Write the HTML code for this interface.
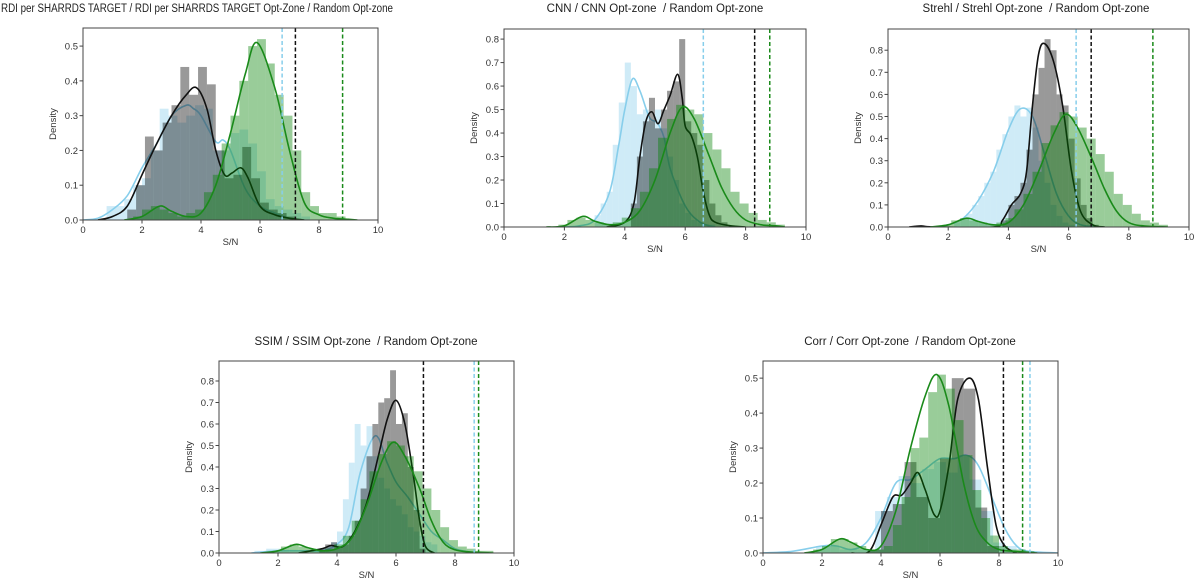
<!DOCTYPE html>
<html><head><meta charset="utf-8"><style>
html,body{margin:0;padding:0;background:#fff;}
svg{display:block;font-family:"Liberation Sans",sans-serif;}
text.title{white-space:pre;}
</style></head><body>
<svg id="fig" width="1200" height="582" viewBox="0 0 1200 582" xmlns="http://www.w3.org/2000/svg"></svg>
<script>
// ---- Panel 1: RDI ----
const p1BlueKdeX=[0,0.5,1,1.5,2,2.5,3,3.5,3.75,4,4.5,4.75,5,5.5,6,6.5,7,7.5];
const p1BlueKdeY=[0,0.005,0.03,0.07,0.15,0.22,0.3,0.33,0.32,0.3,0.225,0.23,0.2,0.09,0.04,0.02,0.005,0];
const p1BlackKdeX=[0.5,1,1.5,2,2.5,3,3.5,3.85,4.2,4.5,4.8,5.05,5.35,5.6,6,6.5,7,7.5];
const p1BlackKdeY=[0,0.01,0.04,0.13,0.22,0.3,0.36,0.38,0.32,0.2,0.13,0.135,0.15,0.12,0.04,0.015,0.005,0];
const p1GreenKdeX=[1.4,2,2.6,3,3.5,4,4.5,5,5.5,5.9,6.5,7,7.5,8,8.5,9,9.3];
const p1GreenKdeY=[0,0.01,0.04,0.025,0.01,0.02,0.1,0.25,0.42,0.51,0.38,0.2,0.05,0.015,0.005,0.002,0];
const p1BlueHist=[0.04,0.04,0.06,0.1,0.12,0.2,0.32,0.3,0.28,0.3,0.33,0.32,0.2,0.2,0.25,0.26,0.22,0.14,0.06,0.04,0.03,0.02,0.01];
const p1BlackHist=[0.03,0.1,0.24,0.2,0.28,0.33,0.44,0.36,0.44,0.39,0.2,0.12,0.13,0.21,0.12,0.05,0.03,0.02,0.01];
const p1GreenHist=[0.01,0.03,0.04,0.03,0.02,0.01,0.02,0.03,0.08,0.13,0.22,0.3,0.4,0.5,0.52,0.45,0.36,0.3,0.2,0.08,0.04,0.02,0.02,0.01];
const p1VLines=[6.75,7.2,8.8];
// ---- Panel 2: CNN ----
const p2BlueKdeX=[2,2.5,3,3.5,3.8,4,4.25,4.5,4.8,5,5.1,5.3,5.5,6,6.5,7];
const p2BlueKdeY=[0,0.005,0.03,0.15,0.35,0.5,0.63,0.58,0.47,0.45,0.44,0.38,0.25,0.09,0.02,0];
const p2BlackKdeX=[3.4,4,4.3,4.5,4.7,4.9,5.1,5.3,5.5,5.75,5.9,6,6.2,6.4,6.6,6.8,7,7.5,8];
const p2BlackKdeY=[0,0.02,0.1,0.3,0.45,0.49,0.44,0.5,0.56,0.65,0.55,0.43,0.39,0.3,0.15,0.05,0.02,0.005,0];
const p2GreenKdeX=[1.4,2,2.6,3,3.5,4,4.5,5,5.5,5.9,6.3,6.8,7.2,7.6,8,8.5,9,9.3];
const p2GreenKdeY=[0,0.005,0.045,0.025,0.01,0.02,0.07,0.2,0.4,0.51,0.46,0.3,0.17,0.08,0.03,0.01,0.005,0];
const p2BlueHist=[0.05,0.1,0.15,0.35,0.53,0.7,0.6,0.48,0.5,0.45,0.5,0.42,0.3,0.2,0.1,0.06,0.03,0.02,0.01,0.01];
const p2BlackHist=[0.1,0.3,0.45,0.55,0.42,0.5,0.58,0.62,0.8,0.45,0.4,0.35,0.2,0.1,0.05,0.02];
const p2GreenHist=[0.01,0.03,0.04,0.03,0.02,0.01,0.02,0.04,0.08,0.15,0.25,0.38,0.46,0.52,0.5,0.48,0.4,0.33,0.25,0.15,0.1,0.06,0.03,0.02,0.01];
const p2VLines=[6.6,8.3,8.8];
// ---- Panel 3: Strehl ----
const p3BlueKdeX=[1.5,2,2.5,3,3.5,4,4.4,4.8,5.2,5.6,6,6.4,7];
const p3BlueKdeY=[0,0.01,0.04,0.12,0.25,0.44,0.535,0.5,0.33,0.15,0.05,0.01,0];
const p3BlackKdeX=[0.7,1.1,1.5,3.5,3.8,4.1,4.4,4.6,4.8,5,5.2,5.5,5.8,6.1,6.4,6.8,7.2];
const p3BlackKdeY=[0,0.005,0,0,0.03,0.1,0.15,0.25,0.55,0.78,0.83,0.75,0.55,0.25,0.07,0.01,0];
const p3GreenKdeX=[1.4,2,2.6,3,3.5,4,4.5,5,5.5,5.9,6.3,6.8,7.2,7.6,8,8.5,9.3];
const p3GreenKdeY=[0,0.01,0.04,0.025,0.01,0.02,0.1,0.25,0.42,0.51,0.45,0.3,0.17,0.07,0.02,0.005,0];
const p3BlueHist=[0.02,0.04,0.06,0.1,0.14,0.2,0.25,0.35,0.42,0.5,0.55,0.5,0.54,0.45,0.3,0.2,0.1,0.05,0.02,0.01];
const p3BlackHist=[0.03,0.1,0.14,0.2,0.35,0.6,0.72,0.85,0.8,0.6,0.55,0.4,0.22,0.1,0.04,0.01];
const p3GreenHist=[0.01,0.03,0.04,0.03,0.02,0.01,0.02,0.04,0.08,0.15,0.25,0.38,0.46,0.52,0.5,0.45,0.4,0.33,0.25,0.15,0.1,0.06,0.03,0.02,0.01];
const p3VLines=[6.25,6.75,8.8];
// ---- Panel 4: SSIM ----
const p4BlueKdeX=[1.1,2,3,3.5,4,4.4,4.8,5.3,5.7,6,6.4,6.8,7.2,7.6,8,8.5,9];
const p4BlueKdeY=[0,0.01,0.01,0.01,0.04,0.12,0.38,0.545,0.42,0.33,0.26,0.18,0.1,0.06,0.02,0.005,0];
const p4BlackKdeX=[2.7,3.5,3.8,4.2,4.6,5,5.4,5.7,6,6.3,6.6,6.8,7,7.3];
const p4BlackKdeY=[0,0.02,0.035,0.03,0.1,0.23,0.45,0.62,0.71,0.6,0.35,0.15,0.03,0];
const p4GreenKdeX=[1.4,2,2.6,3,3.5,4,4.5,5,5.5,5.9,6.3,6.8,7.2,7.6,8,8.5,9.3];
const p4GreenKdeY=[0,0.01,0.04,0.025,0.01,0.02,0.07,0.22,0.42,0.515,0.45,0.3,0.15,0.05,0.015,0.005,0];
const p4BlueHist=[0.01,0.01,0.02,0.02,0.02,0.01,0.01,0.01,0.01,0.01,0.02,0.02,0.03,0.05,0.1,0.25,0.42,0.6,0.5,0.59,0.45,0.35,0.3,0.25,0.22,0.18,0.12,0.1,0.08,0.05,0.04];
const p4BlackHist=[0.02,0.04,0.05,0.03,0.04,0.08,0.15,0.3,0.45,0.6,0.7,0.72,0.85,0.6,0.65,0.4,0.2,0.02];
const p4GreenHist=[0.01,0.03,0.04,0.03,0.02,0.01,0.02,0.04,0.08,0.15,0.25,0.38,0.46,0.52,0.5,0.45,0.38,0.3,0.2,0.12,0.06,0.03,0.02,0.01,0.01];
const p4VLines=[8.65,6.93,8.8];
// ---- Panel 5: Corr ----
const p5BlueKdeX=[0,1,2,2.5,3,3.5,4,4.5,5,5.5,6,6.5,6.9,7.3,7.8,8.2,8.6,9,10];
const p5BlueKdeY=[0,0.005,0.02,0.02,0.01,0.03,0.1,0.2,0.21,0.24,0.27,0.27,0.28,0.25,0.15,0.07,0.02,0.005,0];
const p5BlackKdeX=[3,3.6,4,4.4,4.7,5,5.25,5.5,5.8,6,6.3,6.6,7,7.3,7.6,7.9,8.2,8.6];
const p5BlackKdeY=[0,0.005,0.08,0.16,0.165,0.2,0.23,0.18,0.11,0.12,0.25,0.44,0.5,0.44,0.25,0.08,0.02,0];
const p5GreenKdeX=[1.4,2,2.6,3,3.5,4,4.5,5,5.5,5.9,6.3,6.8,7.2,7.6,8,8.5,9.3];
const p5GreenKdeY=[0,0.01,0.04,0.03,0.01,0.02,0.12,0.3,0.45,0.51,0.42,0.2,0.08,0.03,0.01,0.005,0];
const p5BlueHist=[0.02,0.02,0.01,0.01,0.01,0.12,0.16,0.22,0.2,0.24,0.26,0.23,0.28,0.21,0.12,0.03,0.02];
const p5BlackHist=[0.01,0.12,0.14,0.26,0.16,0.1,0.27,0.5,0.47,0.13,0.02];
const p5GreenHist=[0.01,0.02,0.04,0.04,0.03,0.02,0.01,0.01,0.02,0.08,0.16,0.3,0.33,0.46,0.51,0.47,0.38,0.28,0.18,0.1,0.05,0.02,0.01,0.01,0.005];
const p5VLines=[9.05,8.15,8.8];

const NS="http://www.w3.org/2000/svg";
const svg=document.getElementById('fig');
function mk(tag,attrs,parent){const e=document.createElementNS(NS,tag);for(const k in attrs)e.setAttribute(k,attrs[k]);(parent||svg).appendChild(e);return e;}

const panels=[
 {key:'rdi',title:'RDI per SHARRDS TARGET / RDI per SHARRDS TARGET Opt-Zone / Random Opt-zone',titleX:1,titleY:12,anchor:'start',tlen:392,L:83,R:378,T:28,B:220,ymax:0.552,yticks:[0,0.1,0.2,0.3,0.4,0.5],
  bk:[p1BlueKdeX,p1BlueKdeY],kk:[p1BlackKdeX,p1BlackKdeY],gk:[p1GreenKdeX,p1GreenKdeY],
  bh:[0.8,0.3,p1BlueHist],kh:[1.5,0.3,p1BlackHist],gh:[1.7,0.3,p1GreenHist],v:p1VLines},
 {key:'cnn',title:'CNN / CNN Opt-zone  / Random Opt-zone',titleX:655,titleY:12,L:504,R:806,T:29,B:227,ymax:0.843,yticks:[0,0.1,0.2,0.3,0.4,0.5,0.6,0.7,0.8],
  bk:[p2BlueKdeX,p2BlueKdeY],kk:[p2BlackKdeX,p2BlackKdeY],gk:[p2GreenKdeX,p2GreenKdeY],
  bh:[3.0,0.2,p2BlueHist],kh:[4.2,0.2,p2BlackHist],gh:[1.8,0.3,p2GreenHist],v:p2VLines},
 {key:'strehl',title:'Strehl / Strehl Opt-zone  / Random Opt-zone',titleX:1036,titleY:12,L:888,R:1189,T:29,B:227,ymax:0.896,yticks:[0,0.1,0.2,0.3,0.4,0.5,0.6,0.7,0.8],
  bk:[p3BlueKdeX,p3BlueKdeY],kk:[p3BlackKdeX,p3BlackKdeY],gk:[p3GreenKdeX,p3GreenKdeY],
  bh:[2.2,0.2,p3BlueHist],kh:[3.8,0.2,p3BlackHist],gh:[1.8,0.3,p3GreenHist],v:p3VLines},
 {key:'ssim',title:'SSIM / SSIM Opt-zone  / Random Opt-zone',titleX:366,titleY:345,L:219,R:514,T:361,B:553,ymax:0.893,yticks:[0,0.1,0.2,0.3,0.4,0.5,0.6,0.7,0.8],
  bk:[p4BlueKdeX,p4BlueKdeY],kk:[p4BlackKdeX,p4BlackKdeY],gk:[p4GreenKdeX,p4GreenKdeY],
  bh:[1.2,0.2,p4BlueHist],kh:[3.4,0.2,p4BlackHist],gh:[1.8,0.3,p4GreenHist],v:p4VLines},
 {key:'corr',title:'Corr / Corr Opt-zone  / Random Opt-zone',titleX:910,titleY:345,L:763,R:1058,T:361,B:553,ymax:0.549,yticks:[0,0.1,0.2,0.3,0.4,0.5],
  bk:[p5BlueKdeX,p5BlueKdeY],kk:[p5BlackKdeX,p5BlackKdeY],gk:[p5GreenKdeX,p5GreenKdeY],
  bh:[1.8,0.4,p5BlueHist],kh:[3.6,0.4,p5BlackHist],gh:[1.7,0.3,p5GreenHist],v:p5VLines}
];

function smoothPath(pts){
  let d='M'+pts[0][0].toFixed(1)+','+pts[0][1].toFixed(1);
  for(let i=0;i<pts.length-1;i++){
    const p0=pts[Math.max(0,i-1)],p1=pts[i],p2=pts[i+1],p3=pts[Math.min(pts.length-1,i+2)];
    const c1=[p1[0]+(p2[0]-p0[0])/6,p1[1]+(p2[1]-p0[1])/6];
    const c2=[p2[0]-(p3[0]-p1[0])/6,p2[1]-(p3[1]-p1[1])/6];
    d+=' C'+c1[0].toFixed(1)+','+c1[1].toFixed(1)+' '+c2[0].toFixed(1)+','+c2[1].toFixed(1)+' '+p2[0].toFixed(1)+','+p2[1].toFixed(1);
  }
  return d;
}

const histFill={blue:'rgba(135,206,235,0.4)',black:'rgba(0,0,0,0.4)',green:'rgba(0,128,0,0.4)'};
const lineCol={blue:'#87ceeb',black:'#111',green:'#1a8a1a'};
const vCol=['#87ceeb','#111','#1a8a1a'];

panels.forEach(p=>{
  const xs=v=>p.L+(p.R-p.L)*v/10;
  const ys=v=>p.B-(p.B-p.T)*v/p.ymax;
  const g=mk('g',{});
  
  
  const tattrs={x:p.titleX,y:p.titleY,'text-anchor':p.anchor||'middle','font-size':'11.5',fill:'#222','class':'title'};
  if(p.tlen){tattrs.textLength=p.tlen;tattrs.lengthAdjust='spacingAndGlyphs';}
  const t=mk('text',tattrs,g);
  t.textContent=p.title;
  
  
  const clip=mk('clipPath',{id:'clip-'+p.key},g);
  mk('rect',{x:p.L,y:p.T,width:p.R-p.L,height:p.B-p.T},clip);
  const plot=mk('g',{'clip-path':'url(#clip-'+p.key+')'},g);
  
  
  const series=[['blue',p.bh,p.bk],['black',p.kh,p.kk],['green',p.gh,p.gk]];
  series.forEach(([c,h,k])=>{
    const start=h[0],w=h[1],vals=h[2];
    vals.forEach((v,i)=>{
      const x0=xs(start+i*w),x1=xs(start+(i+1)*w);
      const r=mk('rect',{x:x0,y:ys(v),width:x1-x0,height:p.B-ys(v),fill:histFill[c]},plot);
      
      
    });
    const pts=k[0].map((x,i)=>[xs(x),ys(k[1][i])]);
    const path=mk('path',{d:smoothPath(pts),fill:'none',stroke:lineCol[c],'stroke-width':1.6},plot);
    
    
  });
  p.v.forEach((v,i)=>{
    const l=mk('line',{x1:xs(v),x2:xs(v),y1:p.T,y2:p.B,stroke:vCol[i],'stroke-width':1.5,'stroke-dasharray':'4,2.5'},plot);
    
    
  });
  const frame=mk('rect',{x:p.L,y:p.T,width:p.R-p.L,height:p.B-p.T,fill:'none',stroke:'#444','stroke-width':1},g);
  
  
  [0,2,4,6,8,10].forEach(v=>{
    mk('line',{x1:xs(v),x2:xs(v),y1:p.B,y2:p.B+3.5,stroke:'#444'},g);
    const tx=mk('text',{x:xs(v),y:p.B+13,'text-anchor':'middle','font-size':'9.5',fill:'#333'},g);
    tx.textContent=v;
    
    
  });
  p.yticks.forEach(v=>{
    mk('line',{x1:p.L-3.5,x2:p.L,y1:ys(v),y2:ys(v),stroke:'#444'},g);
    const ty=mk('text',{x:p.L-5,y:ys(v)+3.5,'text-anchor':'end','font-size':'9.5',fill:'#333'},g);
    ty.textContent=v.toFixed(1);
    
    
  });
  const xl=mk('text',{x:(p.L+p.R)/2,y:p.B+25,'text-anchor':'middle','font-size':'9.5',fill:'#333'},g);
  xl.textContent='S/N';
  
  
  const cy=(p.T+p.B)/2, cx=p.L-27;
  const yl=mk('text',{x:cx,y:cy,'text-anchor':'middle','font-size':'9.5',fill:'#333',transform:'rotate(-90 '+cx+' '+cy+')'},g);
  yl.textContent='Density';
  
  
});
</script>
</body></html>
